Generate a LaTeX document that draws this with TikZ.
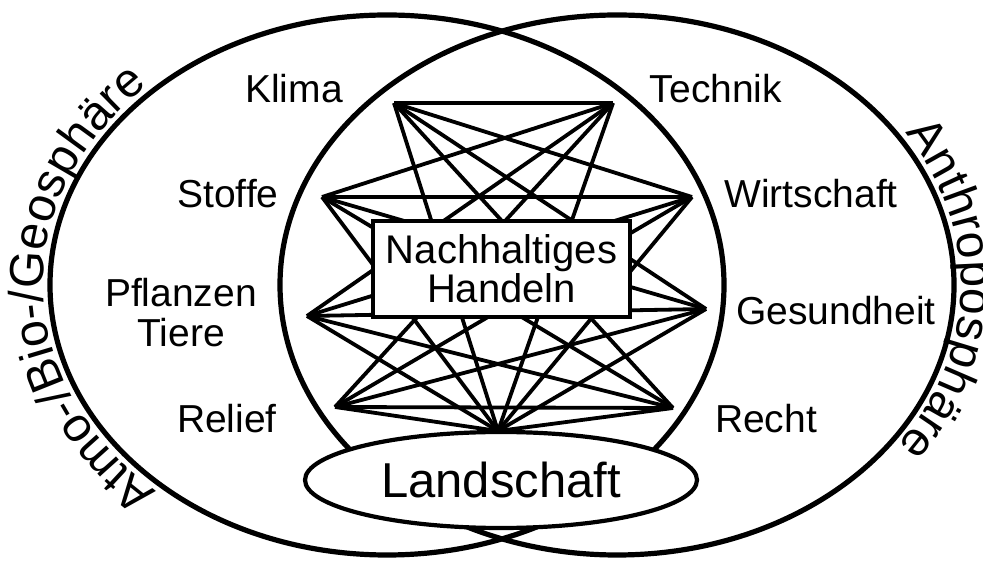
\documentclass[tikz,border=0pt]{standalone}
\usepackage{fontspec}
\setmainfont{Liberation Sans}
\usetikzlibrary{shapes.geometric,decorations.text}
\newcommand\spherefont{\fontsize{24}{24}\selectfont}

\begin{document}
\begin{tikzpicture}[
  x=0.5pt, y=0.5pt,
  sphere/.style={line width=2.6pt},
  link/.style={line width=1.9pt},
  lbl/.style={font=\fontsize{19.5}{20}\selectfont, anchor=base, inner sep=0pt},
  core/.style={draw, line width=2.3pt, fill=white, minimum width=128.5pt, minimum height=48pt, align=center, font=\fontsize{20}{19.5}\selectfont, inner sep=0pt},
  land/.style={ellipse, draw, line width=2.1pt, fill=white, minimum width=196pt, minimum height=48pt, inner sep=0pt, font=\fontsize{24.5}{25}\selectfont}
]
\useasboundingbox (0,0) rectangle (983,561);
% the two spheres
\draw[sphere] (387,276) ellipse [x radius=337, y radius=270];
\draw[sphere] (617,276) ellipse [x radius=337, y radius=270];
\path[decorate, decoration={text along path, text align=center, text={|\spherefont|Atmo-/Bio-/Geosphäre}}]
  (387,276) ++(240:344 and 277) arc[start angle=240, end angle=122, x radius=344, y radius=277];
\path[decorate, decoration={text along path, text align=center, text={|\spherefont|Anthroposphäre}}]
  (617,276) ++(45:344 and 277) arc[start angle=45, end angle=-47, x radius=344, y radius=277];
% end points of the links
\coordinate (kp) at (394,458);
\coordinate (tp) at (613,458);
\coordinate (sp) at (322,364);
\coordinate (wp) at (692,364);
\coordinate (pp) at (307,245);
\coordinate (gp) at (706,252);
\coordinate (rp) at (335,154);
\coordinate (cp) at (673,153);
\coordinate (lp) at (498,130);
\node[lbl] (klima) at (294,458) {Klima};
\node[lbl] (technik) at (716,458) {Technik};
\node[lbl] (stoffe) at (228,353) {Stoffe};
\node[lbl] (wirtschaft) at (811,353) {Wirtschaft};
\node[lbl, anchor=center, align=center] (pflanzen) at (181,248) {Pflanzen\\Tiere};
\node[lbl] (gesundheit) at (836,236) {Gesundheit};
\node[lbl] (relief) at (227,128) {Relief};
\node[lbl] (recht) at (766,128) {Recht};
\foreach \a in {kp,sp,pp,rp}
  \foreach \b in {tp,wp,gp,cp}
    \draw[link] (\a) -- (\b);
\foreach \a in {kp,sp,pp,rp,tp,wp,gp,cp}
  \draw[link] (lp) -- (\a);
\node[core] (handeln) at (501.5,292) {Nachhaltiges\\Handeln};
\node[land] (landschaft) at (501,81) {Landschaft};
\end{tikzpicture}
\end{document}
